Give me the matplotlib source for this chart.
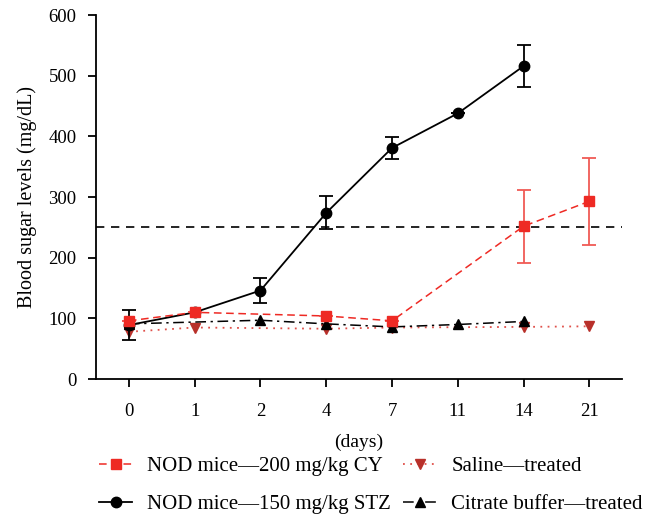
import matplotlib
matplotlib.use("Agg")
import matplotlib.pyplot as plt
from matplotlib.lines import Line2D

plt.rcParams['font.family'] = ['Liberation Serif', 'DejaVu Serif']

day_labels = ['0', '1', '2', '4', '7', '11', '14', '21']

# NOD mice - 200 mg/kg CY (red squares, dashed)
cy_idx = [0, 1, 3, 4, 6, 7]
cy_val = [96, 110, 104, 96, 252, 293]
cy_err = [0, 0, 0, 0, 60, 72]

# NOD mice - 150 mg/kg STZ (black circles, solid)
stz_idx = [0, 1, 2, 3, 4, 5, 6]
stz_val = [89, 110, 146, 274, 381, 438, 516]
stz_err = [25, 0, 20, 27, 18, 0, 34]

# Saline - treated (dark red down triangles, dotted)
sal_idx = [0, 1, 3, 4, 6, 7]
sal_val = [78, 85, 83, 85, 86, 87]

# Citrate buffer - treated (black up triangles, dash-dot)
cit_idx = [0, 2, 3, 4, 5, 6]
cit_val = [91, 97, 91, 86, 90, 95]

threshold = 250

fig = plt.figure(figsize=(6.53, 5.2), dpi=100)
ax = fig.add_axes([0.147, 0.271, 0.806, 0.700])

red = '#ee2a24'
dred = '#b8302a'

cy_style = dict(color=red, ls=(0, (5, 3)), lw=1.1, marker='s', ms=7.5)
stz_style = dict(color='black', ls='-', lw=1.3, marker='o', ms=7.5)
sal_style = dict(color='#e0504a', ls=(0, (1, 3)), lw=1.3, marker='v', ms=7,
                 mfc=dred, mec=dred)
cit_style = dict(color='black', ls=(0, (7, 3, 1.5, 3)), lw=1.1, marker='^', ms=7)

ax.axhline(threshold, color='black', ls=(0, (5, 4)), lw=1.2, zorder=1)

ax.errorbar(stz_idx, stz_val, yerr=stz_err, capsize=5, elinewidth=1.3,
            capthick=1.3, zorder=3, **stz_style)
ax.errorbar(cy_idx, cy_val, yerr=cy_err, capsize=5, elinewidth=1.3,
            capthick=1.3, zorder=4, ecolor='#f05a55', **cy_style)
ax.plot(sal_idx, sal_val, zorder=2, **sal_style)
ax.plot(cit_idx, cit_val, zorder=2, **cit_style)

ax.set_xlim(-0.5, 7.5)
ax.set_ylim(0, 600)
ax.set_xticks(range(len(day_labels)))
ax.set_xticklabels(day_labels)
ax.set_yticks([0, 100, 200, 300, 400, 500, 600])
ax.spines['top'].set_visible(False)
ax.spines['right'].set_visible(False)
ax.spines['left'].set_linewidth(1.3)
ax.spines['bottom'].set_linewidth(1.3)
ax.tick_params(direction='out', length=6, width=1.3, labelsize=13.5, pad=11)
ax.tick_params(axis='y', pad=8)
ax.set_ylabel('Blood sugar levels (mg/dL)', fontsize=14.5, labelpad=8)
ax.set_xlabel('(days)', fontsize=14, labelpad=10)

handles = [Line2D([], [], **cy_style), Line2D([], [], **stz_style),
           Line2D([], [], **sal_style), Line2D([], [], **cit_style)]
labels = ['NOD mice\u2014200 mg/kg CY', 'NOD mice\u2014150 mg/kg STZ',
          'Saline\u2014treated', 'Citrate buffer\u2014treated']
fig.legend(handles, labels, ncol=2, loc='lower center',
           bbox_to_anchor=(0.568, -0.025), frameon=False, fontsize=15,
           handlelength=1.6, handletextpad=0.7, columnspacing=0.6,
           labelspacing=0.9)

fig.savefig('out.png', dpi=100)
